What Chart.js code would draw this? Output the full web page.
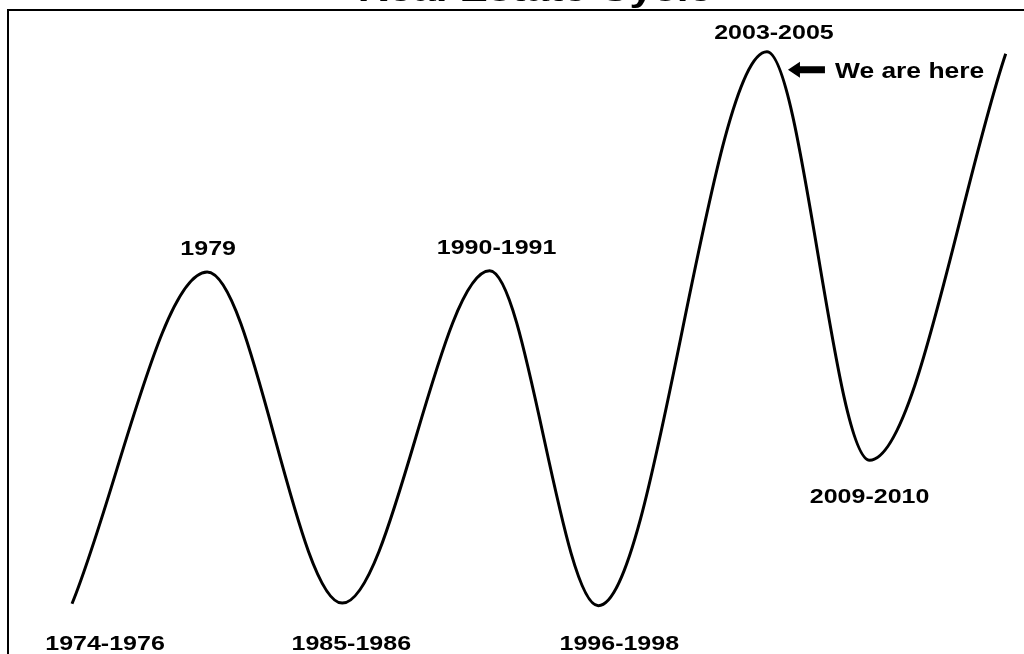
<!DOCTYPE html>
<html>
<head>
<meta charset="utf-8">
<title>Real Estate Cycle</title>
<script src="https://cdn.jsdelivr.net/npm/chart.js@4.4.1/dist/chart.umd.min.js"></script>
<style>
  html, body { margin: 0; padding: 0; background: #fff; overflow: hidden; }
  #wrap { position: relative; width: 1024px; height: 654px; }
</style>
</head>
<body>
<div id="wrap"><canvas id="cycleChart"></canvas></div>
<script>
// turning points of the cycle: position along the time axis and market level
const cyclePos = [6.3, 19.6, 32.9, 47.4, 58.1, 74.7, 84.8, 98.2];
const cycleLevel = [7.8, 59.3, 7.9, 59.5, 7.5, 93.5, 30.1, 93.2];
const turnLabels = ["1974-1976", "1979", "1985-1986", "1990-1991", "1996-1998", "2003-2005", "2009-2010", ""];
const titleText = "Real Estate Cycle";
const markerIndex = 5;
const markerText = "We are here";

// where each year label sits relative to its turning point, in px (dx, dy to baseline)
const labelShift = [[33, 46], [1, -17], [9, 47], [7, -17], [21, 44], [7, -13], [0, 43], [0, 0]];

function stretchedText(ctx, text, x, y, size, sx, align) {
  ctx.save();
  ctx.font = `bold ${size}px "Liberation Sans", Arial, sans-serif`;
  ctx.textBaseline = "alphabetic";
  ctx.textAlign = align;
  ctx.translate(x, y);
  ctx.scale(sx, 1);
  ctx.fillText(text, 0, 0);
  ctx.restore();
}

const cycleDecor = {
  id: "cycleDecor",
  afterDatasetsDraw(chart) {
    const { ctx, chartArea, scales: { x, y } } = chart;
    ctx.save();
    ctx.fillStyle = "#000";
    ctx.strokeStyle = "#000";

    // frame: left and top edges
    ctx.lineWidth = 2;
    ctx.beginPath();
    ctx.moveTo(chartArea.left, chart.height);
    ctx.lineTo(chartArea.left, chartArea.top);
    ctx.lineTo(chart.width, chartArea.top);
    ctx.stroke();

    // title sits above the frame, mostly off the top edge
    stretchedText(ctx, titleText, 535, chartArea.top - 9, 34, 1.25, "center");

    // year labels at the peaks and troughs
    turnLabels.forEach((label, i) => {
      if (!label) return;
      const px = x.getPixelForValue(cyclePos[i]);
      const py = y.getPixelForValue(cycleLevel[i]);
      stretchedText(ctx, label, px + labelShift[i][0], py + labelShift[i][1], 20, 1.25, "center");
    });

    // arrow pointing at the current peak
    const mx = x.getPixelForValue(cyclePos[markerIndex]);
    const my = y.getPixelForValue(cycleLevel[markerIndex]);
    const tipX = mx + 21, tipY = my + 18;
    ctx.beginPath();
    ctx.moveTo(tipX, tipY);
    ctx.lineTo(tipX + 12, tipY - 8);
    ctx.lineTo(tipX + 12, tipY - 3.5);
    ctx.lineTo(tipX + 37, tipY - 3.5);
    ctx.lineTo(tipX + 37, tipY + 3.5);
    ctx.lineTo(tipX + 12, tipY + 3.5);
    ctx.lineTo(tipX + 12, tipY + 8);
    ctx.closePath();
    ctx.fill();
    stretchedText(ctx, markerText, mx + 68, my + 26, 22, 1.2, "left");

    ctx.restore();
  }
};

new Chart(document.getElementById("cycleChart"), {
  type: "line",
  data: {
    datasets: [{
      data: cyclePos.map((p, i) => ({ x: p, y: cycleLevel[i] })),
      borderColor: "#000",
      borderWidth: 3,
      pointRadius: 0,
      cubicInterpolationMode: "monotone",
      fill: false
    }]
  },
  options: {
    responsive: true,
    maintainAspectRatio: false,
    animation: false,
    layout: { padding: { left: 8, top: 10, right: 0, bottom: 0 } },
    plugins: {
      legend: { display: false },
      tooltip: { enabled: false }
    },
    scales: {
      x: { type: "linear", min: 0, max: 100, display: false },
      y: { min: 0, max: 100, display: false }
    }
  },
  plugins: [cycleDecor]
});
</script>
</body>
</html>
